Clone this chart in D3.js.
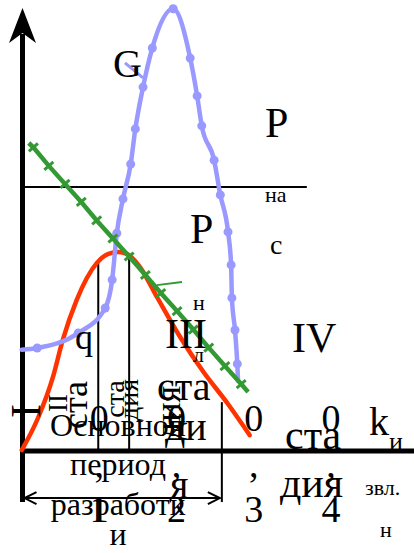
<!DOCTYPE html>
<html>
<head>
<meta charset="utf-8">
<script src="https://cdn.jsdelivr.net/npm/d3@7"></script>
<style>
  html, body { margin: 0; padding: 0; background: #fff; }
  svg { display: block; font-family: "Liberation Serif", "Times New Roman", serif; }
</style>
</head>
<body>
<svg id="chart" width="414" height="553"></svg>
<script>
// Recovery factor (x) at the stage boundaries and where the main period ends
const stageBounds = [0.1, 0.14];
const stageTops = [42.7, 44.2];
const mainPeriodEnd = 0.26;
// Saturation pressure level
const pSatLevel = 60;

// q — oil production rate
const qX = [0.001, 0.022, 0.041, 0.054, 0.072, 0.098, 0.113, 0.126, 0.137, 0.154, 0.176, 0.206, 0.236, 0.267, 0.296];
const qY = [0.2, 7.5, 16.6, 25.2, 34.3, 42.7, 44.8, 45.2, 44.8, 41.8, 35.0, 25.9, 18.0, 10.9, 3.6];

// G — gas factor
const gX = [0.001, 0.021, 0.074, 0.109, 0.118, 0.124, 0.132, 0.142, 0.148, 0.158, 0.170, 0.197, 0.219, 0.228, 0.234, 0.250, 0.258, 0.268, 0.272, 0.273, 0.277, 0.280, 0.281];
const gY = [23.0, 23.4, 26.8, 32.5, 38.9, 49.5, 57.3, 65.2, 73.2, 82.7, 91.6, 100.5, 89.3, 80.7, 73.9, 66.1, 58.2, 49.8, 42.3, 34.8, 27.5, 19.8, 15.9];

// P_пл — reservoir pressure
const pX = [0.010, 0.016, 0.036, 0.057, 0.078, 0.098, 0.119, 0.140, 0.161, 0.181, 0.202, 0.223, 0.243, 0.264, 0.285, 0.294];
const pY = [70.0, 69.0, 64.8, 60.7, 56.6, 52.4, 48.3, 44.2, 40.0, 35.9, 31.8, 27.6, 23.5, 19.3, 15.2, 13.4];

// Axis ticks
const tickValues = [0.1, 0.2, 0.3, 0.4];
const tickLabels = ["0,1", "0,2", "0,3", "0,4"];

const RED = "#ff3300", BLUE = "#9999ff", GREEN = "#339933";

const svg = d3.select("#chart");
const x = d3.scaleLinear().domain([0, 0.4]).range([21, 330]);
const y = d3.scaleLinear().domain([0, 100]).range([451, 11]);

const qData = qX.map((v, i) => [v, qY[i]]);
const gData = gX.map((v, i) => [v, gY[i]]);
const pData = pX.map((v, i) => [v, pY[i]]);

const line = d3.line().x(d => x(d[0])).y(d => y(d[1]));

// ---- frame lines ----
const x0 = x(0) + 1.5;
// y axis with arrowhead
svg.append("line").attr("x1", x0).attr("x2", x0).attr("y1", 34).attr("y2", y(-11.6))
  .attr("stroke", "#000").attr("stroke-width", 5);
svg.append("path")
  .attr("d", `M${x0},8 L${x0 + 13.5},43 L${x0},33 L${x0 - 13.5},43 Z`)
  .attr("fill", "#000");
// x axis
svg.append("line").attr("x1", x0 - 2.5).attr("x2", 414).attr("y1", y(0)).attr("y2", y(0))
  .attr("stroke", "#000").attr("stroke-width", 5);
// saturation pressure line
svg.append("line").attr("x1", x0).attr("x2", x(0.37)).attr("y1", y(pSatLevel)).attr("y2", y(pSatLevel))
  .attr("stroke", "#000").attr("stroke-width", 2);
// stage boundaries
svg.selectAll(".stage").data(stageBounds).join("line").attr("class", "stage")
  .attr("x1", d => x(d)).attr("x2", d => x(d))
  .attr("y1", (d, i) => y(stageTops[i])).attr("y2", y(0))
  .attr("stroke", "#000").attr("stroke-width", 2);
// end of the main development period
svg.append("line").attr("x1", x(mainPeriodEnd)).attr("x2", x(mainPeriodEnd))
  .attr("y1", y(11.1)).attr("y2", y(-11.6))
  .attr("stroke", "#000").attr("stroke-width", 2);
// double-headed arrow under the axis
const ay = y(-10.7), axL = x0 + 2, axR = x(mainPeriodEnd) - 2;
svg.append("line").attr("x1", axL).attr("x2", axR).attr("y1", ay).attr("y2", ay)
  .attr("stroke", "#000").attr("stroke-width", 2);
svg.append("path")
  .attr("d", `M${axL + 12},${ay - 6} L${axL},${ay} L${axL + 12},${ay + 6} M${axR - 12},${ay - 6} L${axR},${ay} L${axR - 12},${ay + 6}`)
  .attr("fill", "none").attr("stroke", "#000").attr("stroke-width", 2);

// ---- curves ----
// q
svg.append("path").datum(qData)
  .attr("d", line.curve(d3.curveMonotoneX))
  .attr("fill", "none").attr("stroke", RED).attr("stroke-width", 4.5).attr("stroke-linecap", "round");

// G with point markers
svg.append("path").datum(gData)
  .attr("d", line.curve(d3.curveMonotoneX))
  .attr("fill", "none").attr("stroke", BLUE).attr("stroke-width", 4.5).attr("stroke-linecap", "round");
svg.selectAll(".gdot").data(gData.slice(1, -1)).join("circle").attr("class", "gdot")
  .attr("cx", d => x(d[0])).attr("cy", d => y(d[1])).attr("r", 4.5).attr("fill", BLUE);
// G leader
svg.append("line").attr("x1", x(0.1346)).attr("y1", y(88.2)).attr("x2", x(0.158)).attr("y2", y(84.8))
  .attr("stroke", BLUE).attr("stroke-width", 3);

// P_пл with cross ticks
svg.append("path").datum(pData)
  .attr("d", line.curve(d3.curveLinear))
  .attr("fill", "none").attr("stroke", GREEN).attr("stroke-width", 4.5);
const p0 = pData[0], p1 = pData[pData.length - 1];
const dx = x(p1[0]) - x(p0[0]), dy = y(p1[1]) - y(p0[1]);
const len = Math.hypot(dx, dy);
const nx = -dy / len, ny = dx / len, tk = 6;
svg.selectAll(".ptick").data(pData.slice(1, -1)).join("line").attr("class", "ptick")
  .attr("x1", d => x(d[0]) - nx * tk).attr("y1", d => y(d[1]) - ny * tk)
  .attr("x2", d => x(d[0]) + nx * tk).attr("y2", d => y(d[1]) + ny * tk)
  .attr("stroke", GREEN).attr("stroke-width", 3);
// P_пл leader
svg.append("line").attr("x1", x(0.176)).attr("y1", y(37.7)).attr("x2", x(0.2084)).attr("y2", y(38.4))
  .attr("stroke", GREEN).attr("stroke-width", 2);

// ---- tick labels, one character per line ----
tickValues.forEach((v, i) => {
  const chars = tickLabels[i].split("");
  const rows = [431, 477, 522];
  chars.forEach((c, j) => {
    svg.append("text").attr("x", x(v) + 1).attr("y", rows[j])
      .attr("text-anchor", "middle").style("font-size", "38px").text(c);
  });
});

// ---- horizontal labels ----
const labels = [
  { t: "G", x: 113, y: 77, s: 40 },
  { t: "P", x: 265, y: 137, s: 42 },
  { t: "на", x: 265, y: 202, s: 22 },
  { t: "с", x: 270, y: 254, s: 28 },
  { t: "P", x: 190, y: 243, s: 42 },
  { t: "н", x: 193, y: 310, s: 22 },
  { t: "л", x: 193, y: 362, s: 22 },
  { t: "q", x: 75, y: 349, s: 36 },
  { t: "III", x: 165, y: 348, s: 42 },
  { t: "IV", x: 292, y: 352, s: 42 },
  { t: "ста", x: 157, y: 400, s: 40 },
  { t: "ди", x: 165, y: 440, s: 40 },
  { t: "я", x: 170, y: 498, s: 40 },
  { t: "ста", x: 285, y: 449, s: 42 },
  { t: "дия", x: 280, y: 497, s: 42 },
  { t: "k", x: 369, y: 435, s: 40 },
  { t: "и", x: 389, y: 450, s: 26 },
  { t: "звл.", x: 365, y: 495, s: 22 },
  { t: "н", x: 380, y: 537, s: 22 }
];
svg.selectAll(".lbl").data(labels).join("text").attr("class", "lbl")
  .attr("x", d => d.x).attr("y", d => d.y).style("font-size", d => d.s + "px").text(d => d.t);

// main development period caption
const period = [["Основной", 436], ["период", 475], ["разработк", 515], ["и", 545]];
svg.selectAll(".per").data(period).join("text").attr("class", "per")
  .attr("x", 118).attr("y", d => d[1]).attr("text-anchor", "middle")
  .style("font-size", "32px").text(d => d[0]);

// ---- rotated stage captions (read bottom to top) ----
const rotated = [
  { t: "I", cx: 26, cy: 411, s: 42, dy: "0.33em" },
  { t: "II", cx: 58, cy: 403, s: 27, dy: "0.33em" },
  { t: "ста", cx: 79, cy: 405, s: 36, dy: "0.23em" },
  { t: "ста", cx: 118, cy: 399, s: 28, dy: "0.23em" },
  { t: "дия", cx: 132, cy: 400, s: 28, dy: "0.23em" },
  { t: "дия", cx: 172, cy: 413, s: 36, dy: "0.23em" }
];
svg.selectAll(".rot").data(rotated).join("text").attr("class", "rot")
  .attr("transform", d => `translate(${d.cx},${d.cy}) rotate(-90)`)
  .attr("text-anchor", "middle").attr("dy", d => d.dy)
  .style("font-size", d => d.s + "px").text(d => d.t);
</script>
</body>
</html>
